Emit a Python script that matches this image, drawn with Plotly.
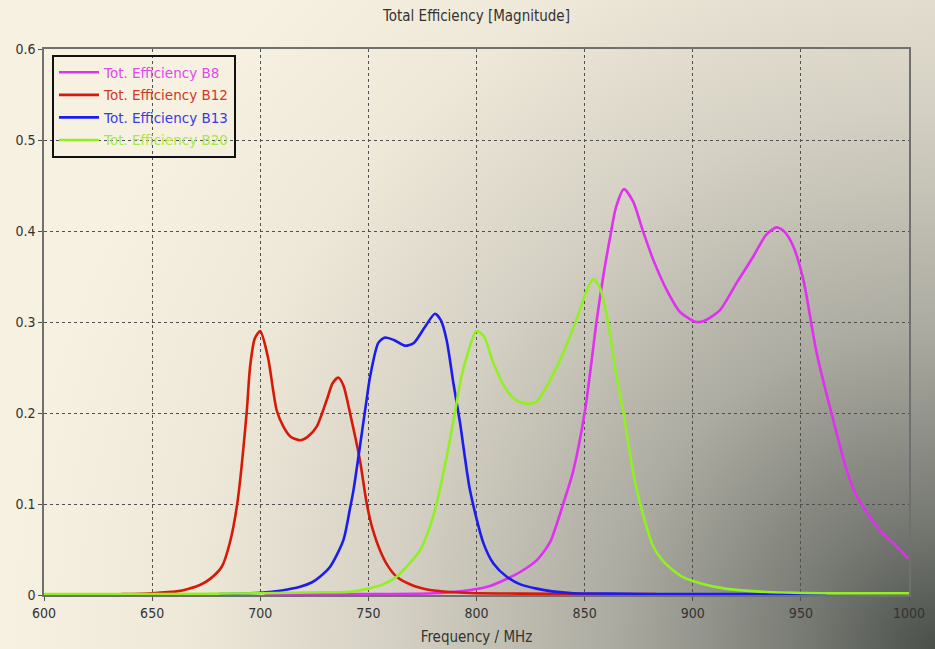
import base64
import plotly.graph_objects as go

# ---------------- data ----------------
b8_f = [702, 750, 780, 792.4, 805, 812.4, 820, 827.8, 834, 840.2, 844.8, 850.2, 855.6, 858.6, 861.7, 864.5, 868.2,
        872.5, 877.1, 881.8, 888, 894.1, 901.8, 906, 912.6, 920.3, 928, 934, 938.8, 942.5, 946.5, 951.2, 957.3,
        965, 971.2, 976, 981.9, 987, 992.7, 999.7]
b8_v = [0.001, 0.001, 0.002, 0.004, 0.009, 0.016, 0.025, 0.038, 0.058, 0.101, 0.137, 0.203, 0.302, 0.350, 0.392, 0.426, 0.446,
        0.432, 0.399, 0.368, 0.335, 0.311, 0.300, 0.302, 0.313, 0.343, 0.372, 0.396, 0.404, 0.399, 0.383, 0.346, 0.266,
        0.192, 0.137, 0.108, 0.086, 0.070, 0.057, 0.040]

b12_f = [636, 650, 661.4, 667, 672.1, 677, 682.2, 686, 689.4, 693.7, 695.3, 697.5, 700, 703.5, 707.6, 710.7, 714, 718.4,
         722, 726.1, 730.7, 733.5, 736.1, 738.5, 741.5, 746.1, 749.2, 752, 755.4, 759, 763.1, 770, 778.5, 790, 800,
         820, 850, 883]
b12_v = [0.001, 0.002, 0.004, 0.007, 0.011, 0.018, 0.031, 0.058, 0.101, 0.200, 0.251, 0.282, 0.290, 0.262, 0.203, 0.185, 0.174, 0.170,
         0.174, 0.185, 0.214, 0.233, 0.239, 0.230, 0.200, 0.148, 0.101, 0.072, 0.049, 0.032, 0.020, 0.011, 0.0055, 0.003, 0.002,
         0.0015, 0.001, 0.001]

b13_f = [681, 700, 710, 718.4, 724, 727.6, 732.3, 738.4, 741.5, 743.1, 747.7, 749.2, 750.8, 754.6, 757.7, 762, 766.9,
         771, 776, 780.8, 783.5, 786.2, 789.3, 792.4, 797, 803.2, 808, 814, 820, 827.8, 835, 844.8, 860, 880, 920, 962]
b13_v = [0.001, 0.0025, 0.005, 0.009, 0.014, 0.020, 0.031, 0.060, 0.095, 0.115, 0.190, 0.215, 0.240, 0.277, 0.283, 0.280, 0.274,
         0.277, 0.294, 0.309, 0.302, 0.280, 0.233, 0.189, 0.115, 0.057, 0.034, 0.020, 0.012, 0.007, 0.004, 0.002, 0.0015, 0.001, 0.001, 0.001]

b20_f = [600, 650, 700, 730, 741.5, 750, 757, 763.1, 768, 773.9, 778, 781.6, 786.2, 790, 792.4, 795.5, 800, 803.5,
         807.8, 814, 819, 824.7, 828, 832.4, 835.5, 838.6, 843.2, 847.8, 851, 854, 857, 860.2, 864.8, 868, 872.5, 875.6,
         881.8, 886, 891, 896, 903.4, 915, 931, 960, 1000]
b20_v = [0.001, 0.001, 0.002, 0.003, 0.0036, 0.007, 0.012, 0.020, 0.032, 0.049, 0.072, 0.101, 0.152, 0.200, 0.233, 0.262, 0.290, 0.284,
         0.255, 0.225, 0.213, 0.210, 0.213, 0.229, 0.243, 0.258, 0.284, 0.313, 0.335, 0.347, 0.338, 0.308, 0.240, 0.200, 0.134, 0.101,
         0.053, 0.038, 0.027, 0.019, 0.013, 0.007, 0.0037, 0.002, 0.002]

series = [
    ("Tot. Efficiency B8", b8_f, b8_v, "#e030f0", "#e048ee"),
    ("Tot. Efficiency B12", b12_f, b12_v, "#d81808", "#d03828"),
    ("Tot. Efficiency B13", b13_f, b13_v, "#1c1cf0", "#3a3ae0"),
    ("Tot. Efficiency B20", b20_f, b20_v, "#90f020", "#a6e848"),
]

x_ticks = [600, 650, 700, 750, 800, 850, 900, 950, 1000]
y_ticks = [0, 0.1, 0.2, 0.3, 0.4, 0.5, 0.6]
y_tick_text = ["0", "0.1", "0.2", "0.3", "0.4", "0.5", "0.6"]

# ---------------- background gradient ----------------
W, H = 935, 649
svg = f'''<svg xmlns="http://www.w3.org/2000/svg" width="{W}" height="{H}" viewBox="0 0 {W} {H}" preserveAspectRatio="none">
<defs><radialGradient id="g" gradientUnits="userSpaceOnUse" cx="{W}" cy="{H}" r="930">
<stop offset="0" stop-color="#4a4f4a"/>
<stop offset="0.14" stop-color="#777a73"/>
<stop offset="0.35" stop-color="#adaca2"/>
<stop offset="0.58" stop-color="#d4d0c3"/>
<stop offset="0.8" stop-color="#eee8d8"/>
<stop offset="1" stop-color="#f7f1e2"/>
</radialGradient></defs>
<rect x="0" y="0" width="{W}" height="{H}" fill="url(#g)"/></svg>'''
bg_uri = "data:image/svg+xml;base64," + base64.b64encode(svg.encode()).decode()

PL, PR, PT, PB = 44, 26, 49, 54
PW, PH = W - PL - PR, H - PT - PB
COND = "DejaVu Sans Condensed, DejaVu Sans"

fig = go.Figure()
for i, (name, fx, fv, lc, tc) in enumerate(series):
    fig.add_trace(go.Scatter(
        x=fx, y=fv, mode="lines", line=dict(color=lc, width=2.6, shape="spline", smoothing=0.7),
        legendgroup=f"g{i}",
        name=f'<span style="color:{tc}">{name}</span>'))

fig.update_layout(
    width=W, height=H,
    margin=dict(l=PL, r=PR, t=PT, b=PB, autoexpand=False),
    paper_bgcolor="#f7f1e2",
    plot_bgcolor="rgba(0,0,0,0)",
    font=dict(family="DejaVu Sans", size=12, color="#333333"),
    title=dict(text="Total Efficiency [Magnitude]", x=0.5, xanchor="center", xref="paper",
               y=1 - 16 / H, yref="container", yanchor="middle",
               font=dict(family=COND, size=15, color="#333333")),
    images=[dict(source=bg_uri, xref="paper", yref="paper", x=-PL / PW, y=1 + PT / PH,
                 sizex=W / PW, sizey=H / PH, xanchor="left", yanchor="top",
                 sizing="stretch", layer="below")],
    legend=dict(x=(52 - PL) / PW, y=1 - (55 - PT) / PH, xanchor="left", yanchor="top",
                bgcolor="rgba(0,0,0,0)", bordercolor="#111111", borderwidth=2,
                font=dict(family="DejaVu Sans", size=13.5), tracegroupgap=2,
                itemwidth=40),
    showlegend=True,
)
fig.update_xaxes(range=[600, 1000], tickvals=x_ticks, ticktext=[str(t) for t in x_ticks],
                 automargin=False,
                 showgrid=True, gridcolor="#505050", griddash="dot", gridwidth=1,
                 showline=True, linecolor="#707070", linewidth=1.5, mirror=True,
                 ticks="outside", ticklen=4, tickcolor="#505050", zeroline=False,
                 tickfont=dict(family=COND, size=14, color="#333333"),
                 title=dict(text="Frequency / MHz", standoff=12,
                            font=dict(family=COND, size=15, color="#333333")))
fig.update_yaxes(range=[0, 0.6], tickvals=y_ticks, ticktext=y_tick_text,
                 automargin=False,
                 showgrid=True, gridcolor="#505050", griddash="dot", gridwidth=1,
                 showline=True, linecolor="#707070", linewidth=1.5, mirror=True,
                 ticks="outside", ticklen=4, tickcolor="#505050", zeroline=False,
                 tickfont=dict(family=COND, size=14, color="#333333"))

fig.write_html("out.html", config={"displayModeBar": False},
               post_script="document.body.style.margin='0';document.body.style.overflow='hidden';")
